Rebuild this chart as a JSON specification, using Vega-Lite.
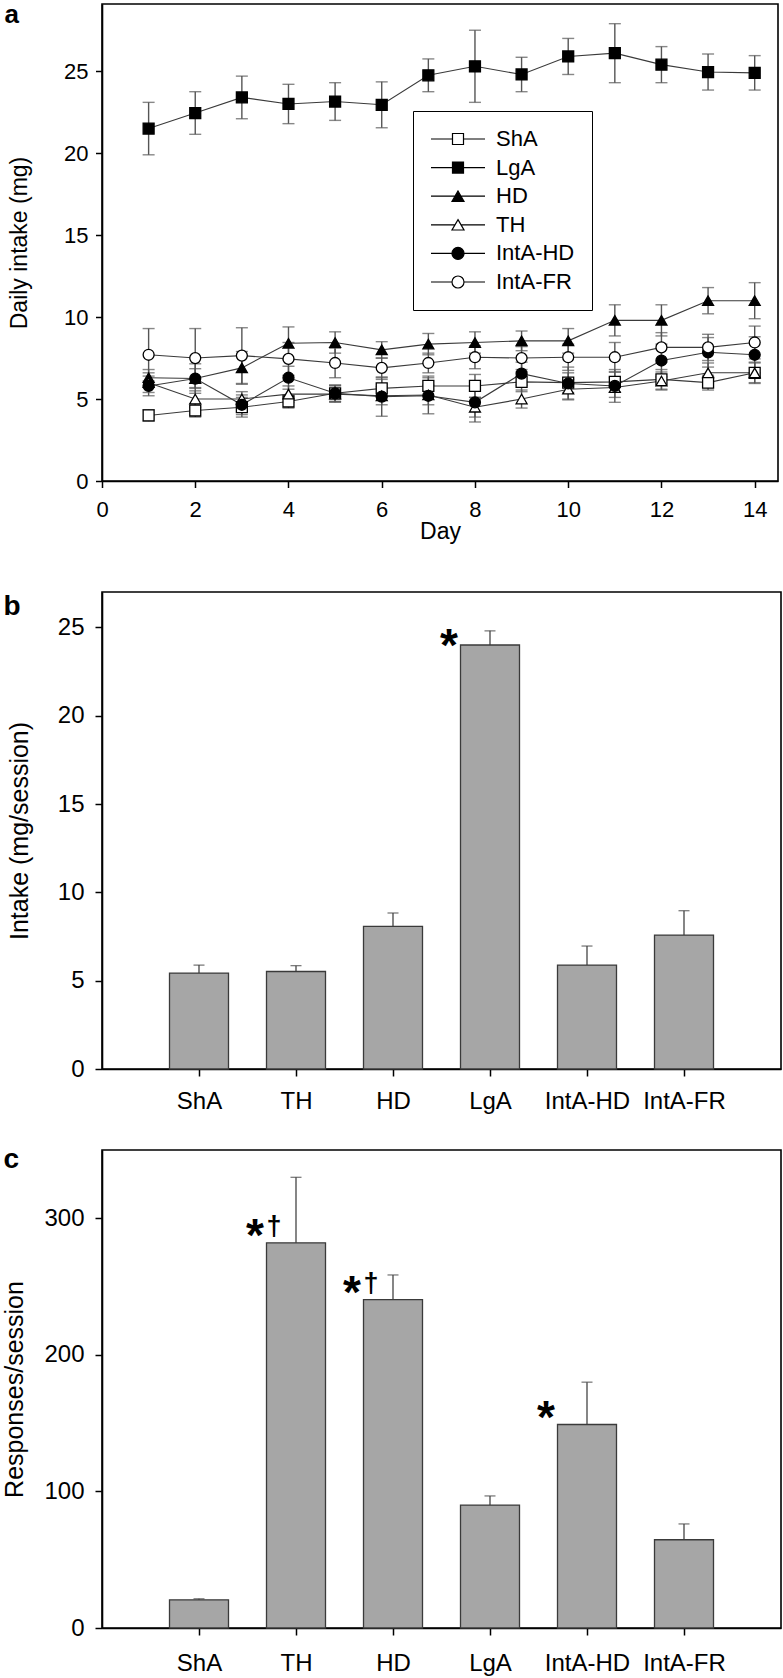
{
  "$schema": "https://vega.github.io/schema/vega-lite/v6.json",
  "background": "white",
  "padding": {"left": 2, "top": 0, "right": 0, "bottom": 0},
  "config": {
    "font": "Liberation Sans",
    "view": {"stroke": "black", "strokeWidth": 1.6},
    "axis": {"grid": false, "domainColor": "black", "domainWidth": 1.6, "tickColor": "black", "tickWidth": 1.5, "labelColor": "black", "titleColor": "black", "labelFont": "Liberation Sans", "titleFont": "Liberation Sans", "titleFontWeight": "normal", "labelFlush": false, "labelOverlap": false}
  },
  "datasets": {
    "daily": [
      {"day": 1, "group": "ShA", "mean": 4.0, "sem": 0.35},
      {"day": 2, "group": "ShA", "mean": 4.3, "sem": 0.4},
      {"day": 3, "group": "ShA", "mean": 4.5, "sem": 0.6},
      {"day": 4, "group": "ShA", "mean": 4.85, "sem": 0.4},
      {"day": 5, "group": "ShA", "mean": 5.35, "sem": 0.5},
      {"day": 6, "group": "ShA", "mean": 5.65, "sem": 0.55},
      {"day": 7, "group": "ShA", "mean": 5.8, "sem": 0.6},
      {"day": 8, "group": "ShA", "mean": 5.8, "sem": 0.7},
      {"day": 9, "group": "ShA", "mean": 6.05, "sem": 0.6},
      {"day": 10, "group": "ShA", "mean": 6.0, "sem": 0.6},
      {"day": 11, "group": "ShA", "mean": 6.05, "sem": 0.6},
      {"day": 12, "group": "ShA", "mean": 6.2, "sem": 0.6},
      {"day": 13, "group": "ShA", "mean": 6.0, "sem": 0.45},
      {"day": 14, "group": "ShA", "mean": 6.6, "sem": 0.6},
      {"day": 1, "group": "LgA", "mean": 21.5, "sem": 1.6},
      {"day": 2, "group": "LgA", "mean": 22.45, "sem": 1.3},
      {"day": 3, "group": "LgA", "mean": 23.4, "sem": 1.3},
      {"day": 4, "group": "LgA", "mean": 23.0, "sem": 1.2},
      {"day": 5, "group": "LgA", "mean": 23.15, "sem": 1.15},
      {"day": 6, "group": "LgA", "mean": 22.95, "sem": 1.4},
      {"day": 7, "group": "LgA", "mean": 24.75, "sem": 1.0},
      {"day": 8, "group": "LgA", "mean": 25.3, "sem": 2.2},
      {"day": 9, "group": "LgA", "mean": 24.8, "sem": 1.05},
      {"day": 10, "group": "LgA", "mean": 25.9, "sem": 1.1},
      {"day": 11, "group": "LgA", "mean": 26.1, "sem": 1.8},
      {"day": 12, "group": "LgA", "mean": 25.4, "sem": 1.1},
      {"day": 13, "group": "LgA", "mean": 24.95, "sem": 1.1},
      {"day": 14, "group": "LgA", "mean": 24.9, "sem": 1.05},
      {"day": 1, "group": "HD", "mean": 6.3, "sem": 0.5},
      {"day": 2, "group": "HD", "mean": 6.25, "sem": 0.6},
      {"day": 3, "group": "HD", "mean": 6.9, "sem": 1.0},
      {"day": 4, "group": "HD", "mean": 8.4, "sem": 1.0},
      {"day": 5, "group": "HD", "mean": 8.45, "sem": 0.65},
      {"day": 6, "group": "HD", "mean": 8.0, "sem": 0.5},
      {"day": 7, "group": "HD", "mean": 8.35, "sem": 0.65},
      {"day": 8, "group": "HD", "mean": 8.45, "sem": 0.65},
      {"day": 9, "group": "HD", "mean": 8.55, "sem": 0.6},
      {"day": 10, "group": "HD", "mean": 8.55, "sem": 0.75},
      {"day": 11, "group": "HD", "mean": 9.8, "sem": 0.95},
      {"day": 12, "group": "HD", "mean": 9.8, "sem": 0.95},
      {"day": 13, "group": "HD", "mean": 11.0, "sem": 0.8},
      {"day": 14, "group": "HD", "mean": 11.0, "sem": 1.1},
      {"day": 1, "group": "TH", "mean": 6.0, "sem": 0.6},
      {"day": 2, "group": "TH", "mean": 5.0, "sem": 0.5},
      {"day": 3, "group": "TH", "mean": 5.0, "sem": 0.45},
      {"day": 4, "group": "TH", "mean": 5.3, "sem": 0.5},
      {"day": 5, "group": "TH", "mean": 5.3, "sem": 0.5},
      {"day": 6, "group": "TH", "mean": 5.2, "sem": 0.55},
      {"day": 7, "group": "TH", "mean": 5.25, "sem": 0.6},
      {"day": 8, "group": "TH", "mean": 4.5, "sem": 0.6},
      {"day": 9, "group": "TH", "mean": 5.0, "sem": 0.55},
      {"day": 10, "group": "TH", "mean": 5.6, "sem": 0.6},
      {"day": 11, "group": "TH", "mean": 5.7, "sem": 0.6},
      {"day": 12, "group": "TH", "mean": 6.1, "sem": 0.55},
      {"day": 13, "group": "TH", "mean": 6.6, "sem": 0.6},
      {"day": 14, "group": "TH", "mean": 6.6, "sem": 0.65},
      {"day": 1, "group": "IntA-HD", "mean": 5.8, "sem": 0.6},
      {"day": 2, "group": "IntA-HD", "mean": 6.25, "sem": 0.9},
      {"day": 3, "group": "IntA-HD", "mean": 4.65, "sem": 0.6},
      {"day": 4, "group": "IntA-HD", "mean": 6.3, "sem": 0.7},
      {"day": 5, "group": "IntA-HD", "mean": 5.35, "sem": 0.5},
      {"day": 6, "group": "IntA-HD", "mean": 5.15, "sem": 1.2},
      {"day": 7, "group": "IntA-HD", "mean": 5.2, "sem": 1.1},
      {"day": 8, "group": "IntA-HD", "mean": 4.8, "sem": 1.2},
      {"day": 9, "group": "IntA-HD", "mean": 6.55, "sem": 0.7},
      {"day": 10, "group": "IntA-HD", "mean": 5.95, "sem": 1.0},
      {"day": 11, "group": "IntA-HD", "mean": 5.8, "sem": 1.0},
      {"day": 12, "group": "IntA-HD", "mean": 7.35, "sem": 1.0},
      {"day": 13, "group": "IntA-HD", "mean": 7.85, "sem": 0.9},
      {"day": 14, "group": "IntA-HD", "mean": 7.7, "sem": 1.1},
      {"day": 1, "group": "IntA-FR", "mean": 7.7, "sem": 1.6},
      {"day": 2, "group": "IntA-FR", "mean": 7.5, "sem": 1.8},
      {"day": 3, "group": "IntA-FR", "mean": 7.65, "sem": 1.7},
      {"day": 4, "group": "IntA-FR", "mean": 7.45, "sem": 1.0},
      {"day": 5, "group": "IntA-FR", "mean": 7.2, "sem": 0.9},
      {"day": 6, "group": "IntA-FR", "mean": 6.9, "sem": 0.6},
      {"day": 7, "group": "IntA-FR", "mean": 7.2, "sem": 0.6},
      {"day": 8, "group": "IntA-FR", "mean": 7.55, "sem": 0.7},
      {"day": 9, "group": "IntA-FR", "mean": 7.5, "sem": 0.7},
      {"day": 10, "group": "IntA-FR", "mean": 7.55, "sem": 0.8},
      {"day": 11, "group": "IntA-FR", "mean": 7.55, "sem": 0.9},
      {"day": 12, "group": "IntA-FR", "mean": 8.15, "sem": 0.9},
      {"day": 13, "group": "IntA-FR", "mean": 8.15, "sem": 0.8},
      {"day": 14, "group": "IntA-FR", "mean": 8.45, "sem": 1.0}
    ],
    "intake": [
      {"group": "ShA", "mean": 5.43, "sem": 0.45, "star": ""},
      {"group": "TH", "mean": 5.52, "sem": 0.33, "star": ""},
      {"group": "HD", "mean": 8.07, "sem": 0.76, "star": ""},
      {"group": "LgA", "mean": 24.0, "sem": 0.8, "star": "*"},
      {"group": "IntA-HD", "mean": 5.88, "sem": 1.08, "star": ""},
      {"group": "IntA-FR", "mean": 7.58, "sem": 1.38, "star": ""}
    ],
    "responses": [
      {"group": "ShA", "mean": 20.6, "sem": 0.8, "star": "", "dagger": ""},
      {"group": "TH", "mean": 282, "sem": 48, "star": "*", "dagger": "†"},
      {"group": "HD", "mean": 240.5, "sem": 18, "star": "*", "dagger": "†"},
      {"group": "LgA", "mean": 90, "sem": 6.7, "star": "", "dagger": ""},
      {"group": "IntA-HD", "mean": 149, "sem": 31, "star": "*", "dagger": ""},
      {"group": "IntA-FR", "mean": 64.6, "sem": 11.6, "star": "", "dagger": ""}
    ]
  },
  "spacing": 111,
  "bounds": "flush",
  "vconcat": [
    {
      "width": 676,
      "height": 477,
      "data": {"name": "daily"},
      "layer": [
        {
          "mark": {"type": "errorbar", "ticks": {"size": 12}, "color": "#555555", "thickness": 1.4},
          "encoding": {
            "x": {"field": "day", "type": "quantitative", "scale": {"domain": [0, 14.5], "nice": false}, "axis": {"orient": "bottom", "values": [0, 2, 4, 6, 8, 10, 12, 14], "title": "Day", "titleFontSize": 23, "titlePadding": 0, "labelFontSize": 22, "labelPadding": 12, "tickSize": 6.5}},
            "y": {"field": "mean", "type": "quantitative", "scale": {"domain": [0, 29.1], "nice": false}, "axis": {"values": [0, 5, 10, 15, 20, 25], "title": "Daily intake (mg)", "titleFontSize": 23, "titlePadding": 32, "labelFontSize": 22, "labelPadding": 7.5, "tickSize": 6.5}},
            "yError": {"field": "sem"}
          }
        },
        {
          "mark": {"type": "line", "color": "#3a3a3a", "strokeWidth": 1.1},
          "encoding": {
            "x": {"field": "day", "type": "quantitative", "axis": null},
            "y": {"field": "mean", "type": "quantitative"},
            "detail": {"field": "group", "type": "nominal"}
          }
        },
        {
          "mark": {"type": "point", "filled": true, "stroke": "black", "strokeWidth": 1.3, "size": 120, "opacity": 1},
          "encoding": {
            "x": {"field": "day", "type": "quantitative", "axis": null},
            "y": {"field": "mean", "type": "quantitative"},
            "shape": {"field": "group", "type": "nominal", "scale": {"domain": ["ShA", "LgA", "HD", "TH", "IntA-HD", "IntA-FR"], "range": ["square", "square", "triangle-up", "triangle-up", "circle", "circle"]}, "legend": null},
            "fill": {"field": "group", "type": "nominal", "scale": {"domain": ["ShA", "LgA", "HD", "TH", "IntA-HD", "IntA-FR"], "range": ["white", "black", "black", "white", "black", "white"]}, "legend": null}
          }
        },
        {
          "mark": {"type": "point", "filled": true, "strokeWidth": 1.2, "opacity": 0},
          "encoding": {
            "x": {"field": "day", "type": "quantitative", "axis": {"orient": "top", "domain": false, "ticks": false, "labels": false, "grid": false, "title": "a", "titleX": -98, "titleY": 18, "titleAngle": 0, "titleAlign": "left", "titleBaseline": "alphabetic", "titleFontSize": 26, "titleFontWeight": "bold", "titleFont": "Liberation Sans", "titleColor": "black"}},
            "y": {"field": "mean", "type": "quantitative"},
            "shape": {"field": "group", "type": "nominal",
              "scale": {"domain": ["ShA", "LgA", "HD", "TH", "IntA-HD", "IntA-FR"],
                "range": [
                  "M-2.7,0H-0.55M0.55,0H2.7M-0.55,-0.55H0.55V0.55H-0.55Z",
                  "M-2.7,0H-0.55M0.55,0H2.7M-0.55,-0.55H0.55V0.55H-0.55Z",
                  "M-2.7,0H-0.3M0.3,0H2.7M0,-0.52L0.6,0.52H-0.6Z",
                  "M-2.7,0H-0.3M0.3,0H2.7M0,-0.52L0.6,0.52H-0.6Z",
                  "M-2.7,0H-0.6M0.6,0H2.7M0.6,0A0.6,0.6,0,1,1,-0.6,0A0.6,0.6,0,1,1,0.6,0Z",
                  "M-2.7,0H-0.6M0.6,0H2.7M0.6,0A0.6,0.6,0,1,1,-0.6,0A0.6,0.6,0,1,1,0.6,0Z"
                ]},
              "legend": {"title": null, "orient": "none", "legendX": 311, "legendY": 107, "padding": 17, "rowPadding": 6.6, "strokeColor": "black", "fillColor": "white", "symbolSize": 400, "symbolOffset": 17, "symbolStrokeWidth": 1.2, "symbolOpacity": 1, "labelFont": "Liberation Sans", "labelFontSize": 22, "labelColor": "black", "labelOffset": 27, "labelLimit": 300}},
            "fill": {"field": "group", "type": "nominal",
              "scale": {"domain": ["ShA", "LgA", "HD", "TH", "IntA-HD", "IntA-FR"], "range": ["white", "black", "black", "white", "black", "white"]},
              "legend": {"title": null, "orient": "none", "legendX": 311, "legendY": 107, "padding": 17, "rowPadding": 6.6, "strokeColor": "black", "fillColor": "white", "symbolSize": 400, "symbolOffset": 17, "symbolStrokeWidth": 1.2, "symbolOpacity": 1, "labelFont": "Liberation Sans", "labelFontSize": 22, "labelColor": "black", "labelOffset": 27, "labelLimit": 300}},
            "stroke": {"field": "group", "type": "nominal",
              "scale": {"domain": ["ShA", "LgA", "HD", "TH", "IntA-HD", "IntA-FR"], "range": ["black", "black", "black", "black", "black", "black"]},
              "legend": {"title": null, "orient": "none", "legendX": 311, "legendY": 107, "padding": 17, "rowPadding": 6.6, "strokeColor": "black", "fillColor": "white", "symbolSize": 400, "symbolOffset": 17, "symbolStrokeWidth": 1.2, "symbolOpacity": 1, "labelFont": "Liberation Sans", "labelFontSize": 22, "labelColor": "black", "labelOffset": 27, "labelLimit": 300}}
          }
        }
      ],
      "resolve": {"scale": {"shape": "independent", "fill": "independent", "stroke": "independent"}, "axis": {"x": "independent"}}
    },
    {
      "spacing": 81,
      "bounds": "flush",
      "vconcat": [
        {
          "width": 679,
          "height": 477,
          "data": {"name": "intake"},
          "layer": [
            {
              "mark": {"type": "errorbar", "ticks": {"size": 11}, "color": "#444444", "thickness": 1.3},
              "encoding": {
                "x": {"field": "group", "type": "nominal", "sort": null, "scale": {"type": "point", "padding": 1}, "axis": {"orient": "bottom", "title": null, "labelAngle": 0, "labelFontSize": 24, "labelPadding": 13, "tickSize": 7}},
                "y": {"field": "mean", "type": "quantitative", "scale": {"domain": [0, 27], "nice": false}, "axis": {"values": [0, 5, 10, 15, 20, 25], "title": "Intake (mg/session)", "titleFontSize": 25, "titlePadding": 25, "labelFontSize": 24, "labelPadding": 11, "tickSize": 7}},
                "yError": {"field": "sem"}
              }
            },
            {
              "mark": {"type": "bar", "width": 59, "fill": "#a6a6a6", "stroke": "#3a3a3a", "strokeWidth": 1.3},
              "encoding": {
                "x": {"field": "group", "type": "nominal", "sort": null, "axis": null},
                "y": {"field": "mean", "type": "quantitative"}
              }
            },
            {
              "mark": {"type": "text", "font": "Liberation Sans", "fontSize": 46, "fontWeight": "bold", "dx": -41, "dy": 16, "baseline": "alphabetic", "align": "center", "color": "black"},
              "encoding": {
                "x": {"field": "group", "type": "nominal", "sort": null, "axis": {"orient": "top", "domain": false, "ticks": false, "labels": false, "grid": false, "title": "b", "titleX": -99, "titleY": 22.5, "titleAngle": 0, "titleAlign": "left", "titleBaseline": "alphabetic", "titleFontSize": 28, "titleFontWeight": "bold", "titleFont": "Liberation Sans", "titleColor": "black"}},
                "y": {"field": "mean", "type": "quantitative"},
                "text": {"field": "star"}
              }
            }
          ],
          "resolve": {"axis": {"x": "independent"}}
        },
        {
          "width": 679,
          "height": 478,
          "data": {"name": "responses"},
          "layer": [
            {
              "mark": {"type": "errorbar", "ticks": {"size": 11}, "color": "#444444", "thickness": 1.3},
              "encoding": {
                "x": {"field": "group", "type": "nominal", "sort": null, "scale": {"type": "point", "padding": 1}, "axis": {"orient": "bottom", "title": null, "labelAngle": 0, "labelFontSize": 24, "labelPadding": 16, "tickSize": 7}},
                "y": {"field": "mean", "type": "quantitative", "scale": {"domain": [0, 350], "nice": false}, "axis": {"values": [0, 100, 200, 300], "title": "Responses/session", "titleFontSize": 25, "titlePadding": 16, "labelFontSize": 24, "labelPadding": 11, "tickSize": 7}},
                "yError": {"field": "sem"}
              }
            },
            {
              "mark": {"type": "bar", "width": 59, "fill": "#a6a6a6", "stroke": "#3a3a3a", "strokeWidth": 1.3},
              "encoding": {
                "x": {"field": "group", "type": "nominal", "sort": null, "axis": null},
                "y": {"field": "mean", "type": "quantitative"}
              }
            },
            {
              "mark": {"type": "text", "font": "Liberation Sans", "fontSize": 46, "fontWeight": "bold", "dx": -41, "dy": 8, "baseline": "alphabetic", "align": "center", "color": "black"},
              "encoding": {
                "x": {"field": "group", "type": "nominal", "sort": null, "axis": {"orient": "top", "domain": false, "ticks": false, "labels": false, "grid": false, "title": "c", "titleX": -99, "titleY": 17.5, "titleAngle": 0, "titleAlign": "left", "titleBaseline": "alphabetic", "titleFontSize": 28, "titleFontWeight": "bold", "titleFont": "Liberation Sans", "titleColor": "black"}},
                "y": {"field": "mean", "type": "quantitative"},
                "text": {"field": "star"}
              }
            },
            {
              "mark": {"type": "text", "font": "Liberation Sans", "fontSize": 27, "fontWeight": "bold", "dx": -22, "dy": -7.5, "baseline": "alphabetic", "align": "center", "color": "black"},
              "encoding": {
                "x": {"field": "group", "type": "nominal", "sort": null, "axis": null},
                "y": {"field": "mean", "type": "quantitative"},
                "text": {"field": "dagger"}
              }
            }
          ],
          "resolve": {"axis": {"x": "independent"}}
        }
      ]
    }
  ]
}
